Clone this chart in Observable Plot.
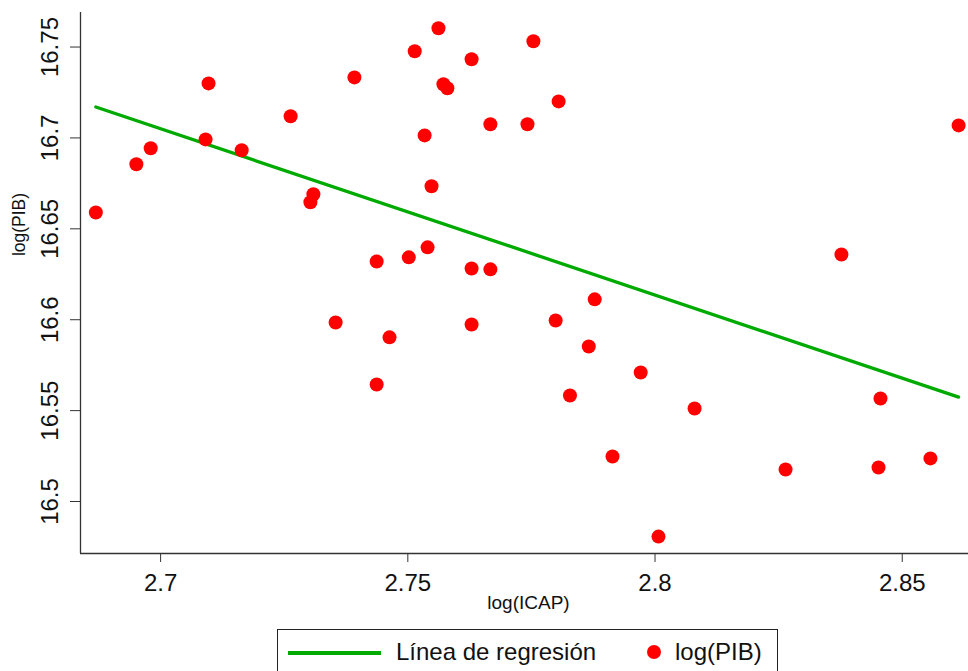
<!DOCTYPE html>
<html>
<head>
<meta charset="utf-8">
<script src="https://cdn.jsdelivr.net/npm/d3@7"></script>
<script src="https://cdn.jsdelivr.net/npm/@observablehq/plot@0.6"></script>
<style>
  html, body { margin: 0; padding: 0; background: #fff; }
  #wrap { position: relative; width: 968px; height: 671px; overflow: hidden; font-family: "Liberation Sans", Arial, sans-serif; }
  #legend { position: absolute; left: 277px; top: 629px; width: 501px; height: 70px; border: 1.3px solid #222; box-sizing: border-box; background: #fff; }
  #legend .line { position: absolute; left: 10px; top: 21px; width: 93px; height: 3.5px; background: #00AA00; }
  #legend .t1 { position: absolute; left: 118px; top: 8px; font-size: 24px; color: #111; white-space: nowrap; }
  #legend .dot { position: absolute; left: 369px; top: 15px; width: 14px; height: 14px; border-radius: 50%; background: #FF0000; }
  #legend .t2 { position: absolute; left: 397px; top: 8px; font-size: 24px; color: #111; white-space: nowrap; }
</style>
</head>
<body>
<div id="wrap"></div>
<script>
// log(ICAP) values
const icap = [2.6869, 2.6951, 2.6980, 2.7091, 2.7097, 2.7164, 2.7263, 2.7303, 2.7309, 2.7354,
  2.7392, 2.7437, 2.7437, 2.7463, 2.7502, 2.7514, 2.7534, 2.7540, 2.7548, 2.7562,
  2.7572, 2.7580, 2.7629, 2.7629, 2.7629, 2.7667, 2.7667, 2.7742, 2.7754, 2.7799,
  2.7805, 2.7828, 2.7866, 2.7878, 2.7914, 2.7971, 2.8007, 2.8080, 2.8264, 2.8377,
  2.8452, 2.8456, 2.8557, 2.8614];
// log(PIB) values
const pib = [16.659, 16.6855, 16.6943, 16.6992, 16.730, 16.6932, 16.7119, 16.6646, 16.669, 16.5985,
  16.7333, 16.632, 16.5644, 16.5903, 16.6343, 16.7477, 16.7014, 16.6398, 16.6734, 16.7603,
  16.7295, 16.7273, 16.7433, 16.6282, 16.5974, 16.7075, 16.6277, 16.7075, 16.7532, 16.5996,
  16.7201, 16.5583, 16.5853, 16.6112, 16.5248, 16.5710, 16.4807, 16.5512, 16.5176, 16.6359,
  16.5187, 16.5567, 16.5237, 16.7069];

const xTicks = [2.7, 2.75, 2.8, 2.85];
const xTickLabels = ["2.7", "2.75", "2.8", "2.85"];
const yTicks = [16.5, 16.55, 16.6, 16.65, 16.7, 16.75];
const yTickLabels = ["16.5", "16.55", "16.6", "16.65", "16.7", "16.75"];
const xDomain = [2.6838, 2.8634];
const yDomain = [16.4714, 16.769];

const data = icap.map((x, i) => ({x, y: pib[i]}));

const font = "Liberation Sans, Arial, sans-serif";
const axisColor = "#333";

const chart = Plot.plot({
  width: 968,
  height: 620,
  marginTop: 12,
  marginLeft: 80,
  marginRight: 0,
  marginBottom: 67,
  style: {fontFamily: font, background: "white", color: "#111"},
  x: {domain: xDomain, axis: null},
  y: {domain: yDomain, axis: null},
  marks: [
    // axis lines
    Plot.ruleY([yDomain[0]], {stroke: axisColor, strokeWidth: 1.3}),
    Plot.ruleX([xDomain[0]], {stroke: axisColor, strokeWidth: 1.3}),
    // ticks
    Plot.axisX({ticks: xTicks, tickSize: 9, tickPadding: 11, fontSize: 24, stroke: axisColor,
      tickFormat: (d) => xTickLabels[xTicks.indexOf(d)], label: null}),
    Plot.axisY({ticks: yTicks, tickSize: 10, tickFormat: () => "", stroke: axisColor, label: null}),
    Plot.text(yTicks, {y: d => d, text: (d, i) => yTickLabels[i], frameAnchor: "left", dx: -30,
      rotate: -90, fontSize: 24, fill: "#111", textAnchor: "middle", lineAnchor: "middle"}),
    // axis titles
    Plot.text(["log(PIB)"], {text: d => d, frameAnchor: "top-left", dx: -61, dy: 212, rotate: -90,
      fontSize: 17.5, fill: "#111", textAnchor: "middle", lineAnchor: "middle"}),
    Plot.text(["log(ICAP)"], {text: d => d, frameAnchor: "bottom", dx: 4, dy: 49,
      fontSize: 19, fill: "#111", textAnchor: "middle", lineAnchor: "middle"}),
    // regression line
    Plot.linearRegressionY(data, {x: "x", y: "y", stroke: "#00AA00", strokeWidth: 3.3, ci: 0}),
    // points
    Plot.dot(data, {x: "x", y: "y", r: 7, fill: "#FF0000", stroke: "none"})
  ]
});

const wrap = document.getElementById("wrap");
wrap.appendChild(chart);
const legend = document.createElement("div");
legend.id = "legend";
legend.innerHTML = '<div class="line"></div><div class="t1">Línea de regresión</div><div class="dot"></div><div class="t2">log(PIB)</div>';
wrap.appendChild(legend);
</script>
</body>
</html>
